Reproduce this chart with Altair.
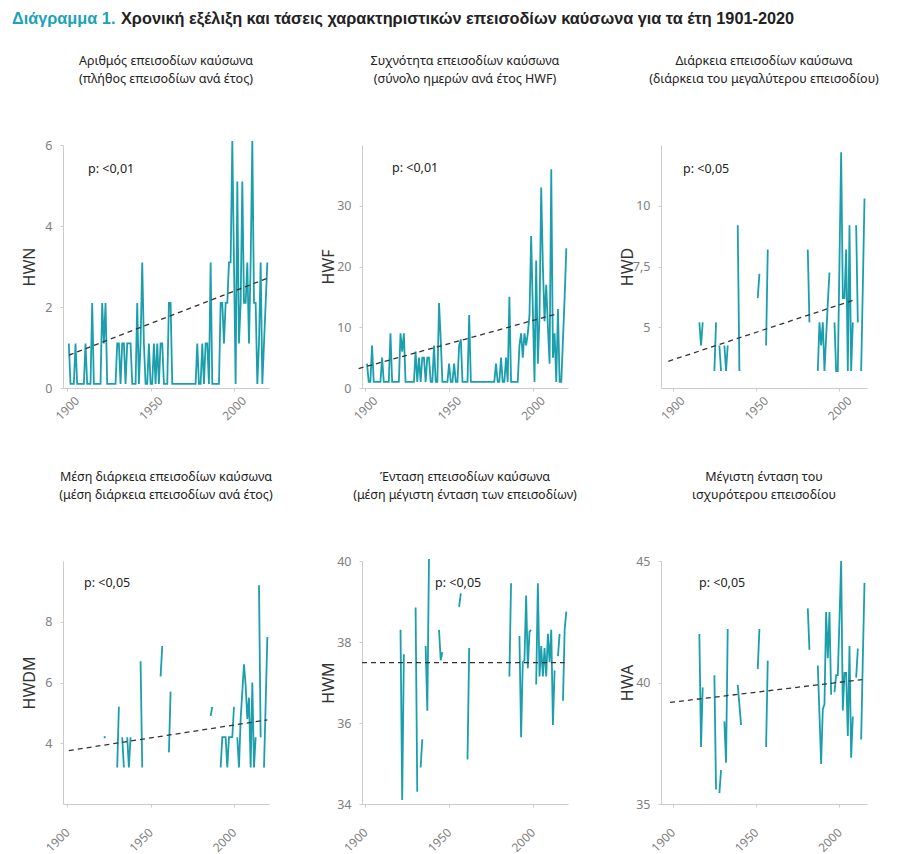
import altair as alt
import pandas as pd

# ---------------- data ----------------
YEARS = list(range(1901, 2021))
# panels 3 and 6 are drawn ~5 years to the left on their own axes
YEARS_SHIFT = list(range(1896, 2016))

HWN = [1.1, 0.1, 0.1, 0.1, 1.1, 0.1, 0.1, 0.1, 0.1, 0.1,
       1.1, 0.1, 0.1, 0.1, 2.1, 0.1, 0.1, 0.1, 0.1, 0.1,
       2.1, 1.1, 2.1, 0.1, 0.1, 0.1, 0.1, 0.1, 0.1, 1.1,
       1.1, 0.1, 1.1, 1.1, 0.1, 1.1, 1.1, 1.1, 0.1, 0.1,
       0.1, 2.1, 0.1, 1.1, 3.1, 1.1, 0.1, 0.1, 1.1, 0.1,
       0.1, 1.1, 0.1, 1.1, 0.1, 1.1, 1.1, 0.1, 0.1, 0.1,
       2.1, 2.1, 0.1, 0.1, 0.1, 0.1, 0.1, 0.1, 0.1, 0.1,
       0.1, 0.1, 0.1, 0.1, 0.1, 0.1, 0.1, 1.1, 0.1, 0.1,
       1.1, 0.1, 1.1, 1.1, 0.1, 3.1, 0.1, 0.1, 0.1, 0.1,
       0.1, 2.1, 2.1, 1.1, 2.1, 2.1, 3.1, 3.1, 6.1, 3.1,
       0.1, 5.1, 1.1, 2.1, 5.1, 2.1, 2.1, 3.1, 1.1, 3.1,
       6.1, 2.1, 2.1, 0.1, 1.1, 3.1, 0.1, 1.1, 2.1, 3.1]

HWF = [4, 1, 1, 7, 1, 1, 1, 1, 1, 5,
       1, 1, 1, 1, 9, 1, 1, 1, 1, 1,
       9, 6, 9, 1, 1, 1, 1, 1, 1, 6,
       1, 5, 1, 5, 5, 1, 5, 5, 1, 1,
       7, 1, 1, 14, 8, 1, 1, 1, 1, 4,
       1, 1, 4, 1, 1, 7, 8, 1, 1, 1,
       1, 12, 1, 1, 1, 1, 1, 1, 1, 1,
       1, 1, 1, 1, 1, 1, 1, 4, 1, 1,
       5, 1, 1, 5, 1, 15, 1, 1, 1, 1,
       1, 7, 9, 5, 9, 7, 9, 12, 25, 13,
       1, 21, 4, 12, 33, 20, 11, 17, 10, 4,
       36, 5, 9, 1, 13, 1, 1, 8, 15, 23]

N = None
HWD = [N, N, N, N, N, N, N, N, N, N,
       N, N, N, N, N, N, N, N, N, N,
       5.2, 4.25, 5.2, N, N, N, N, N, N, 3.2,
       5.2, N, 4.25, 3.2, N, 4.25, 3.2, 4.25, N, N,
       N, N, N, 9.2, 3.2, N, N, N, N, N,
       N, N, N, N, N, 6.2, 7.2, N, N, N,
       4.25, 8.2, N, N, N, N, N, N, N, N,
       N, N, N, N, N, N, N, N, N, N,
       N, N, N, N, N, 8.2, 5.2, N, N, N,
       N, 3.2, 5.2, 4.25, 5.2, 3.2, 4.6, 6.0, 7.25, N,
       N, 5.2, 3.2, 3.2, 7.7, 12.2, 6.2, 6.2, 8.2, 3.2,
       9.2, 3.2, 5.2, N, 9.2, 5.2, N, 3.2, 6.7, 10.3]

HWDM = [N, N, N, N, N, N, N, N, N, N,
        N, N, N, N, N, N, N, N, N, N,
        N, 4.18, 4.22, N, N, N, N, N, N, 3.2,
        5.2, N, 4.2, 3.2, N, 4.2, 3.2, 4.2, N, N,
        N, N, N, 6.7, 3.2, N, N, N, N, N,
        N, N, N, N, N, 6.2, 7.2, N, N, N,
        3.7, 5.7, N, N, N, N, N, N, N, N,
        N, N, N, N, N, N, N, N, N, N,
        N, N, N, N, N, 4.9, 5.2, N, N, N,
        N, 3.2, 4.2, 4.2, 4.2, 3.2, 4.2, 4.2, 4.2, 5.2,
        N, 4.2, 3.2, 4.8, 5.7, 6.6, 5.9, 4.8, 5.5, 3.2,
        6.0, 3.2, 4.2, N, 9.2, 4.2, N, 3.2, 5.3, 7.5]

HWM = [N, N, N, N, N, N, N, N, N, N,
       N, N, N, N, N, N, N, N, N, N,
       38.3, 34.1, 37.7, N, N, N, N, N, N, 38.85,
       34.3, N, 34.9, 35.6, N, 37.9, 36.3, 40.05, N, N,
       N, N, N, 38.3, 37.55, 37.75, N, N, N, N,
       N, N, N, N, N, 38.87, 39.2, N, N, N,
       35.1, 37.85, N, N, N, N, N, N, N, N,
       N, N, N, N, N, N, N, N, N, N,
       N, N, N, N, N, 37.15, 39.45, N, N, N,
       N, 38.15, 35.65, 37.5, 37.55, 39.15, 37.35, 38.25, 38.3, N,
       N, 36.95, 39.45, 37.15, 37.9, 37.15, 37.85, 37.15, 38.2, 37.5,
       38.3, 35.95, 37.3, N, 37.65, 38.2, N, 36.55, 38.3, 38.75]

HWA = [N, N, N, N, N, N, N, N, N, N,
       N, N, N, N, N, N, N, N, N, N,
       42.0, 37.35, 39.8, N, N, N, N, N, N, 40.3,
       35.6, N, 35.45, 36.4, N, 38.4, 36.7, 42.2, N, N,
       N, N, N, 39.9, 39.1, 38.25, N, N, N, N,
       N, N, N, N, N, 40.55, 42.2, N, N, N,
       37.35, 40.9, N, N, N, N, N, N, N, N,
       N, N, N, N, N, N, N, N, N, N,
       N, N, N, N, N, 43.05, 41.35, N, N, N,
       N, 40.7, 38.7, 36.65, 38.9, 39.1, 42.9, 41.0, 42.9, 39.5,
       N, 39.6, 40.3, 40.3, 42.6, 45.0, 38.85, 40.4, 40.4, 37.8,
       41.5, 36.9, 38.6, N, 40.2, 41.4, N, 37.65, 41.0, 44.1]

SERIES = [HWN, HWF, HWD, HWDM, HWM, HWA]
SERIES_YEARS = [YEARS, YEARS, YEARS_SHIFT, YEARS, YEARS, YEARS_SHIFT]

TITLES = [
    ["Αριθμός επεισοδίων καύσωνα", "(πλήθος επεισοδίων ανά έτος)"],
    ["Συχνότητα επεισοδίων καύσωνα", "(σύνολο ημερών ανά έτος HWF)"],
    ["Διάρκεια επεισοδίων καύσωνα", "(διάρκεια του μεγαλύτερου επεισοδίου)"],
    ["Μέση διάρκεια επεισοδίων καύσωνα", "(μέση διάρκεια επεισοδίων ανά έτος)"],
    ["Ένταση επεισοδίων καύσωνα", "(μέση μέγιστη ένταση των επεισοδίων)"],
    ["Μέγιστη ένταση του", "ισχυρότερου επεισοδίου"],
]
Y_TITLES = ["HWN", "HWF", "HWD", "HWDM", "HWM", "HWA"]
P_LABELS = ["p: <0,01", "p: <0,01", "p: <0,05", "p: <0,05", "p: <0,05", "p: <0,05"]

TREND_X = [[1901, 2020], [1896, 2013], [1897.4, 2010], [1901, 2020], [1898, 2019], [1898.4, 2013.6]]
TREND_Y = [[0.81, 2.71], [3.2, 12.1], [3.6, 6.15], [3.76, 4.77], [37.49, 37.49], [39.18, 40.12]]

Y_DOMAINS = [[0, 6], [0, 40], [2.5, 12.5], [2, 10], [34, 40], [35, 45]]
Y_TICKS = [[0, 2, 4, 6], [0, 10, 20, 30], [5, 7.5, 10], [4, 6, 8], [34, 36, 38, 40], [35, 40, 45]]
X_DOMAINS = [[1897.5, 2021], [1898, 2021], [1893, 2016.5],
             [1897.5, 2021], [1898, 2021], [1893, 2016.5]]
X_TICKS = [1900, 1950, 2000]

HEADER_A = "Διάγραμμα 1."
HEADER_B = "Χρονική εξέλιξη και τάσεις χαρακτηριστικών επεισοδίων καύσωνα για τα έτη 1901-2020"

# ---------------- styling ----------------
TEAL = "#1b9fac"
W, H = 206, 243
P_POS = [(25, 24), (30, 23), (22, 24), (21, 22), (73, 22), (38, 22)]
FONT = "Noto Sans"


def to_frame(years, values):
    rows, seg, prev = [], 0, None
    for yr, v in zip(years, values):
        if v is None:
            prev = None
            continue
        if prev is None:
            seg += 1
        rows.append({"year": yr, "value": v, "seg": seg})
        prev = v
    return pd.DataFrame(rows)


def text_layer(txt, x, y, **kw):
    return alt.Chart(pd.DataFrame({"t": [txt]})).mark_text(**kw).encode(
        text="t:N", x=alt.value(x), y=alt.value(y))


def panel(i):
    df = to_frame(SERIES_YEARS[i], SERIES[i])
    xsc = alt.Scale(domain=X_DOMAINS[i], nice=False, zero=False)
    ysc = alt.Scale(domain=Y_DOMAINS[i], nice=False, zero=False)
    bottom_row = i >= 3
    xaxis = alt.Axis(values=X_TICKS, format="d", labelAngle=315,
                     labelAlign="right" if bottom_row else "center",
                     labelBaseline="middle", labelPadding=23 if bottom_row else 17, tickSize=3,
                     domainColor="#cccccc", tickColor="#cccccc", labelColor="#808080",
                     labelFont=FONT, labelFontSize=12, grid=False, title=None)
    yaxis = alt.Axis(values=Y_TICKS[i], labelExpr="replace(format(datum.value, '~g'), '.', ',')",
                     tickSize=3, labelPadding=8, domainColor="#cccccc", tickColor="#cccccc",
                     labelColor="#808080", labelFont=FONT, labelFontSize=12.5, grid=False,
                     title=Y_TITLES[i], titleFont=FONT, titleFontSize=16, titleFontWeight="normal",
                     titleColor="#333333", titleX=-34, titleY=H / 2, titleAngle=270,
                     titleAlign="center", titleBaseline="middle")
    line = alt.Chart(df).mark_line(color=TEAL, strokeWidth=1.8).encode(
        x=alt.X("year:Q", scale=xsc, axis=xaxis),
        y=alt.Y("value:Q", scale=ysc, axis=yaxis),
        detail="seg:N",
    )
    tdf = pd.DataFrame({"year": TREND_X[i], "value": TREND_Y[i]})
    trend = alt.Chart(tdf).mark_line(color="#333333", strokeDash=[5, 4], strokeWidth=1.3).encode(
        x=alt.X("year:Q", title=None),
        y=alt.Y("value:Q", title=Y_TITLES[i]),
    )
    px, py = P_POS[i]
    ptxt = text_layer(P_LABELS[i], px, py, align="left", baseline="middle", font=FONT,
                      fontSize=12.5, color="#222222")
    t1 = text_layer(TITLES[i][0], W / 2, -84, align="center", baseline="middle", font=FONT,
                    fontSize=12.5, color="#222222")
    t2 = text_layer(TITLES[i][1], W / 2, -66, align="center", baseline="middle", font=FONT,
                    fontSize=12.5, color="#222222")
    layers = [line, trend, ptxt, t1, t2]
    if i == 0:
        ha = text_layer(HEADER_A, -51, -126, align="left", baseline="middle",
                        font="Liberation Sans", fontSize=16.3, fontWeight="bold", color="#1aa3b4")
        hb = text_layer(HEADER_B, 58, -126, align="left", baseline="middle",
                        font="Liberation Sans", fontSize=16.3, fontWeight="bold", color="#222222")
        layers += [ha, hb]
    return alt.layer(*layers).properties(width=W, height=H)


chart = alt.concat(*[panel(i) for i in range(6)], columns=3,
                   spacing={"row": 173, "column": 93}, bounds="flush").properties(
    padding={"left": 4, "top": 3, "right": 5, "bottom": 4}
).configure_view(stroke=None)

chart.save("out.html", embed_options={"renderer": "svg", "actions": False})
